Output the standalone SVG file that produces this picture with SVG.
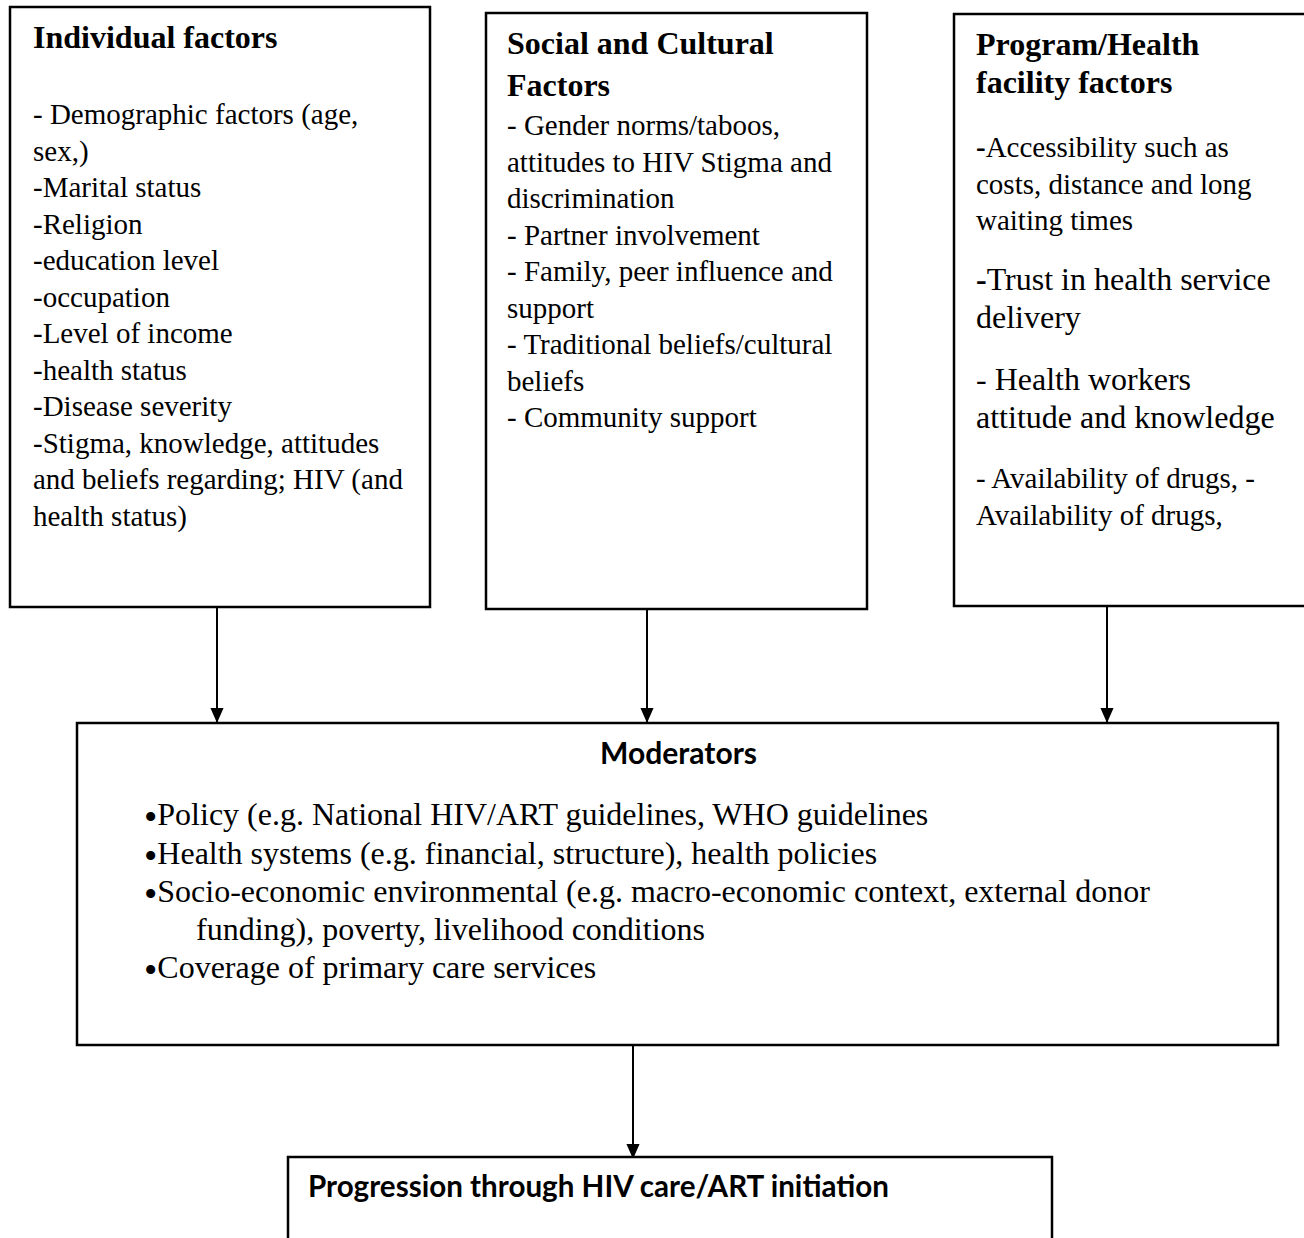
<svg xmlns="http://www.w3.org/2000/svg" width="1304" height="1238" viewBox="0 0 1304 1238">
<style>
.box{fill:#fff;stroke:#000;stroke-width:2.5}
.h{font-family:"Liberation Serif","Times New Roman",serif;font-weight:bold;font-size:32px;fill:#000}
.t{font-family:"Liberation Serif","Times New Roman",serif;font-size:29px;fill:#000}
.tl{font-family:"Liberation Serif","Times New Roman",serif;font-size:32px;fill:#000}
.b{font-size:38px}
.s{font-family:Lato,"Open Sans",sans-serif;font-weight:bold;font-size:30px;fill:#000}
.c{stroke:#000;stroke-width:2;fill:none}
</style>
<defs>
<marker id="ah" markerWidth="15" markerHeight="17" refX="16" refY="7.5" orient="auto" markerUnits="userSpaceOnUse" viewBox="0 0 17 15">
<path d="M0,0 L17,7.5 L0,15 Z" fill="#000"/>
</marker>
</defs>
<rect width="1304" height="1238" fill="#fff"/>
<g id="connectors">
<line class="c" x1="217" y1="607" x2="217" y2="722" marker-end="url(#ah)"/>
<line class="c" x1="647" y1="609" x2="647" y2="722" marker-end="url(#ah)"/>
<line class="c" x1="1107" y1="606" x2="1107" y2="722" marker-end="url(#ah)"/>
<line class="c" x1="633" y1="1045" x2="633" y2="1158" marker-end="url(#ah)"/>
</g>
<g id="individual">
<rect class="box" x="10" y="7" width="420" height="600"/>
<text class="h" x="33" y="48">Individual factors</text>
<text class="t" x="33" y="124">- Demographic factors (age,</text>
<text class="t" x="33" y="160.5">sex,)</text>
<text class="t" x="33" y="197">-Marital status</text>
<text class="t" x="33" y="233.5">-Religion</text>
<text class="t" x="33" y="270">-education level</text>
<text class="t" x="33" y="306.5">-occupation</text>
<text class="t" x="33" y="343">-Level of income</text>
<text class="t" x="33" y="379.5">-health status</text>
<text class="t" x="33" y="416">-Disease severity</text>
<text class="t" x="33" y="452.5">-Stigma, knowledge, attitudes</text>
<text class="t" x="33" y="489">and beliefs regarding; HIV (and</text>
<text class="t" x="33" y="525.5">health status)</text>
</g>
<g id="social">
<rect class="box" x="486" y="13" width="381" height="596"/>
<text class="h" x="507" y="54">Social and Cultural</text>
<text class="h" x="507" y="96">Factors</text>
<text class="t" x="507" y="135">- Gender norms/taboos,</text>
<text class="t" x="507" y="171.5">attitudes to HIV Stigma and</text>
<text class="t" x="507" y="208">discrimination</text>
<text class="t" x="507" y="244.5">- Partner involvement</text>
<text class="t" x="507" y="281">- Family, peer influence and</text>
<text class="t" x="507" y="317.5">support</text>
<text class="t" x="507" y="354">- Traditional beliefs/cultural</text>
<text class="t" x="507" y="390.5">beliefs</text>
<text class="t" x="507" y="427">- Community support</text>
</g>
<g id="program">
<rect class="box" x="954" y="14" width="360" height="592"/>
<text class="h" x="976" y="55">Program/Health</text>
<text class="h" x="976" y="93">facility factors</text>
<text class="t" x="976" y="157"><tspan font-weight="bold">-</tspan>Accessibility such as</text>
<text class="t" x="976" y="193.5">costs, distance and long</text>
<text class="t" x="976" y="230">waiting times</text>
<text class="tl" x="976" y="290"><tspan font-weight="bold">-</tspan>Trust in health service</text>
<text class="tl" x="976" y="328">delivery</text>
<text class="tl" x="976" y="390">- Health workers</text>
<text class="tl" x="976" y="428">attitude and knowledge</text>
<text class="t" x="976" y="488">- Availability of drugs, -</text>
<text class="t" x="976" y="525">Availability of drugs,</text>
</g>
<g id="moderators">
<rect class="box" x="77" y="723" width="1201" height="322"/>
<text class="s" x="600" y="764" textLength="157" lengthAdjust="spacingAndGlyphs">Moderators</text>
<text class="tl" x="144" y="825"><tspan class="b" dy="5">•</tspan><tspan dy="-5">Policy (e.g. National HIV/ART guidelines, WHO guidelines</tspan></text>
<text class="tl" x="144" y="864"><tspan class="b" dy="5">•</tspan><tspan dy="-5">Health systems (e.g. financial, structure), health policies</tspan></text>
<text class="tl" x="144" y="902"><tspan class="b" dy="5">•</tspan><tspan dy="-5">Socio-economic environmental (e.g. macro-economic context, external donor</tspan></text>
<text class="tl" x="196" y="940">funding), poverty, livelihood conditions</text>
<text class="tl" x="144" y="978"><tspan class="b" dy="5">•</tspan><tspan dy="-5">Coverage of primary care services</tspan></text>
</g>
<g id="progression">
<rect class="box" x="288" y="1157" width="764" height="100"/>
<text class="s" x="308" y="1197" textLength="581" lengthAdjust="spacingAndGlyphs">Progression through HIV care/ART initiation</text>
</g>
</svg>
